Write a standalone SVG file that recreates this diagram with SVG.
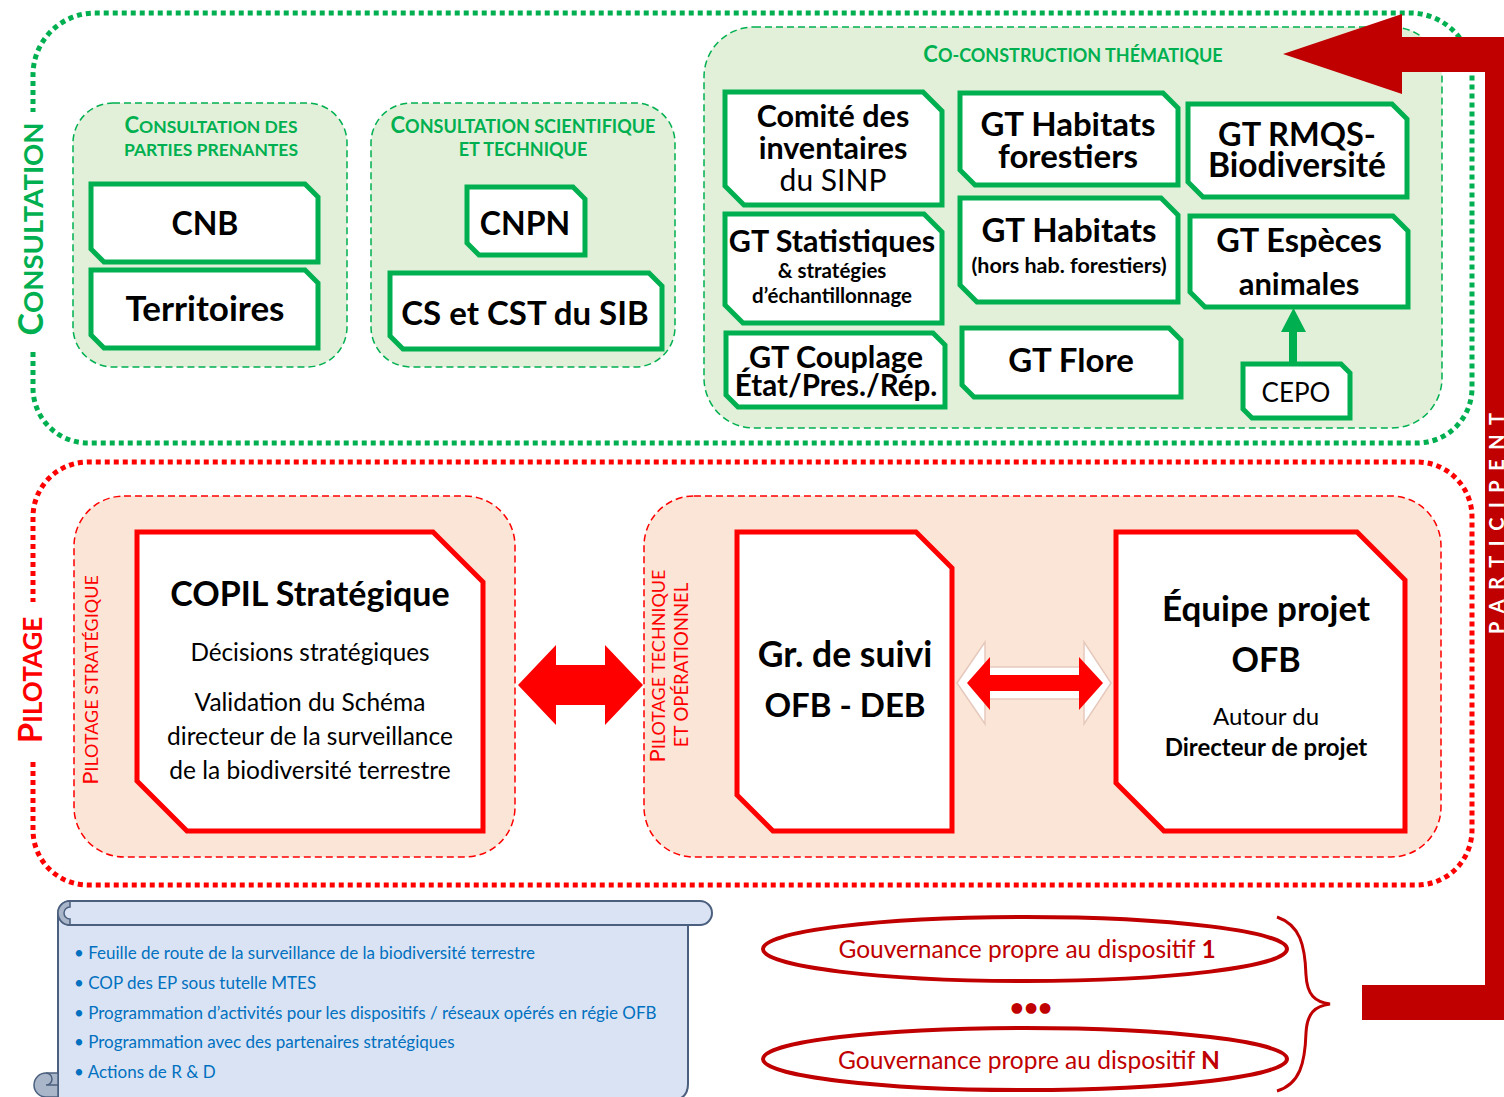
<svg xmlns="http://www.w3.org/2000/svg" width="1504" height="1097" viewBox="0 0 1504 1097">
<style>
text{font-family:Lato,"Liberation Sans",sans-serif;}
.b{font-weight:bold;}
.gbox{fill:#fff;stroke:#00b050;stroke-width:5;stroke-linejoin:miter;}
.rbox{fill:#fff;stroke:#ff0000;stroke-width:5;stroke-linejoin:miter;}
.gcont{fill:#e2f0d9;stroke:#00b050;stroke-width:1.5;stroke-dasharray:7 4;}
.rcont{fill:#fbe5d6;stroke:#ff0000;stroke-width:1.5;stroke-dasharray:7 4;}
.gtitle{fill:#00b050;font-weight:bold;text-anchor:middle;}
.rtitle{fill:#ff0000;text-anchor:middle;}
.t{fill:#000;text-anchor:middle;}
.bul{fill:#0070c0;font-size:17px;}
.gov{fill:#c00000;font-size:24.5px;text-anchor:middle;}
</style>

<g id="consultation-frame">
<path d="M33,352 L33,388 A55,55 0 0 0 88,443 L1417,443 A55,55 0 0 0 1472,388 L1472,75 A62,62 0 0 0 1410,13 L95,13 A62,62 0 0 0 33,75 L33,112" fill="none" stroke="#00b050" stroke-width="5" stroke-dasharray="5 4"/>
<text transform="translate(43,229) rotate(-90)" class="gtitle"><tspan font-size="34">C</tspan><tspan font-size="27.5">ONSULTATION</tspan></text>
</g>

<g id="pilotage-frame">
<path d="M33,762 L33,830 A55,55 0 0 0 88,885 L1417,885 A55,55 0 0 0 1472,830 L1472,517 A55,55 0 0 0 1417,462 L88,462 A55,55 0 0 0 33,517 L33,602" fill="none" stroke="#ff0000" stroke-width="5" stroke-dasharray="5 4"/>
<text transform="translate(42,680) rotate(-90)" class="rtitle b"><tspan font-size="33">P</tspan><tspan font-size="26">ILOTAGE</tspan></text>
</g>

<g id="parties-prenantes">
<rect class="gcont" x="73" y="103" width="274" height="264" rx="40"/>
<text class="gtitle" x="211" y="133"><tspan font-size="22">C</tspan><tspan font-size="17.5">ONSULTATION DES</tspan></text>
<text class="gtitle" x="211" y="156" font-size="17.5">PARTIES PRENANTES</text>
</g>
<g id="cnb">
<polygon class="gbox" points="91,184 305,184 318,197 318,262 104,262 91,249"/>
<text class="t b" x="205" y="235" font-size="32">CNB</text>
</g>
<g id="territoires">
<polygon class="gbox" points="91,270 305,270 318,283 318,348 104,348 91,335"/>
<text class="t b" x="205" y="321" font-size="35">Territoires</text>
</g>

<g id="scientifique">
<rect class="gcont" x="371" y="103" width="304" height="264" rx="40"/>
<text class="gtitle" x="523" y="133"><tspan font-size="22">C</tspan><tspan font-size="18">ONSULTATION SCIENTIFIQUE</tspan></text>
<text class="gtitle" x="523" y="156" font-size="18">ET TECHNIQUE</text>
</g>
<g id="cnpn">
<polygon class="gbox" points="467,187 573,187 585,199 585,255 479,255 467,243"/>
<text class="t b" x="525" y="235" font-size="32">CNPN</text>
</g>
<g id="cs-cst">
<polygon class="gbox" points="390,273 649,273 662,286 662,349 403,349 390,336"/>
<text class="t b" x="525" y="325" font-size="33">CS et CST du SIB</text>
</g>

<g id="co-construction">
<rect class="gcont" x="704" y="27" width="738" height="401" rx="50"/>
<text class="gtitle" x="1073" y="62"><tspan font-size="22">C</tspan><tspan font-size="18">O-CONSTRUCTION THÉMATIQUE</tspan></text>
</g>
<g id="comite">
<polygon class="gbox" points="725,92 923,92 942,111 942,205 744,205 725,186"/>
<text class="t b" x="833" y="127" font-size="30.5">Comité des</text>
<text class="t b" x="833" y="159" font-size="30.5">inventaires</text>
<text class="t" x="833" y="191" font-size="30">du SINP</text>
</g>
<g id="gt-stat">
<polygon class="gbox" points="725,214 924,214 942,232 942,323 743,323 725,305"/>
<text class="t b" x="832" y="252" font-size="30.5">GT Statistiques</text>
<text class="t b" x="832" y="278" font-size="20.5">&amp; stratégies</text>
<text class="t b" x="832" y="303" font-size="20.5">d’échantillonnage</text>
</g>
<g id="gt-couplage">
<polygon class="gbox" points="726,333 933,333 945,345 945,407 738,407 726,395"/>
<text class="t b" x="836" y="368" font-size="30.5">GT Couplage</text>
<text class="t b" x="836" y="396" font-size="29.5">État/Pres./Rép.</text>
</g>
<g id="gt-hab-for">
<polygon class="gbox" points="960,93 1163,93 1178,108 1178,185 975,185 960,170"/>
<text class="t b" x="1068" y="136" font-size="33">GT Habitats</text>
<text class="t b" x="1068" y="168" font-size="33">forestiers</text>
</g>
<g id="gt-hab">
<polygon class="gbox" points="960,198 1161,198 1178,215 1178,302 977,302 960,285"/>
<text class="t b" x="1069" y="242" font-size="33">GT Habitats</text>
<text class="t b" x="1069" y="273" font-size="21.5">(hors hab. forestiers)</text>
</g>
<g id="gt-flore">
<polygon class="gbox" points="962,328 1169,328 1181,340 1181,397 974,397 962,385"/>
<text class="t b" x="1071" y="372" font-size="33">GT Flore</text>
</g>
<g id="gt-rmqs">
<polygon class="gbox" points="1188,104 1392,104 1407,119 1407,197 1203,197 1188,182"/>
<text class="t b" x="1297" y="146" font-size="32.5">GT RMQS-</text>
<text class="t b" x="1297" y="177" font-size="33.5">Biodiversité</text>
</g>
<g id="gt-especes">
<polygon class="gbox" points="1190,216 1393,216 1408,231 1408,307 1205,307 1190,292"/>
<text class="t b" x="1299" y="252" font-size="32.5">GT Espèces</text>
<text class="t b" x="1299" y="295" font-size="31">animales</text>
</g>
<g id="cepo">
<polygon class="gbox" points="1243,364 1341,364 1350,373 1350,418 1252,418 1243,409"/>
<text class="t" x="1296" y="402" font-size="26">CEPO</text>
</g>

<g id="pilotage-strategique">
<rect class="rcont" x="74" y="496" width="441" height="361" rx="50"/>
<text transform="translate(98,680) rotate(-90)" class="rtitle"><tspan font-size="22">P</tspan><tspan font-size="18">ILOTAGE STRATÉGIQUE</tspan></text>
</g>
<g id="copil">
<polygon class="rbox" points="137,532 433,532 483,582 483,831 187,831 137,781"/>
<text class="t b" x="310" y="606" font-size="34">COPIL Stratégique</text>
<text class="t" x="310" y="661" font-size="24.3">Décisions stratégiques</text>
<text class="t" x="310" y="711" font-size="24.5">Validation du Schéma</text>
<text class="t" x="310" y="745" font-size="24.5">directeur de la surveillance</text>
<text class="t" x="310" y="779" font-size="24.5">de la biodiversité terrestre</text>
</g>

<g id="pilotage-technique">
<rect class="rcont" x="644" y="496" width="797" height="361" rx="50"/>
<text transform="translate(665,666) rotate(-90)" class="rtitle"><tspan font-size="22">P</tspan><tspan font-size="18">ILOTAGE TECHNIQUE</tspan></text>
<text transform="translate(688,665) rotate(-90)" class="rtitle" font-size="18.5">ET OPÉRATIONNEL</text>
</g>
<g id="gr-suivi">
<polygon class="rbox" points="737,532 916,532 952,568 952,831 773,831 737,795"/>
<text class="t b" x="845" y="667" font-size="35.5">Gr. de suivi</text>
<text class="t b" x="845" y="717" font-size="33">OFB - DEB</text>
</g>
<g id="equipe-projet">
<polygon class="rbox" points="1116,532 1357,532 1405,580 1405,831 1164,831 1116,783"/>
<text class="t b" x="1266" y="621" font-size="35">Équipe projet</text>
<text class="t b" x="1266" y="672" font-size="34">OFB</text>
<text class="t" x="1266" y="725" font-size="24">Autour du</text>
<text class="t b" x="1266" y="756" font-size="24">Directeur de projet</text>
</g>

<g id="feuille-de-route">
<path d="M58,913 L58,1100 L676,1100 Q688,1097 688,1084 L688,913 Z" fill="#dae3f3" stroke="#4b5f7e" stroke-width="2"/>
<rect x="58" y="901" width="654" height="24" rx="12" fill="#dae3f3" stroke="#4b5f7e" stroke-width="2"/>
<path d="M70,901 A12,12 0 0 0 70,925 L70,919 A6,6 0 0 1 70,907 Z" fill="#a9b6c9" stroke="#4b5f7e" stroke-width="1.5"/>
<path d="M58,1073 L46,1073 A12,12 0 0 0 46,1097 L58,1097 Z" fill="#a9b6c9" stroke="#4b5f7e" stroke-width="1.5"/>
<path d="M46,1073 A6,6 0 0 1 46,1085 L58,1085" fill="none" stroke="#4b5f7e" stroke-width="1.5"/>
<text class="bul" x="74" y="959">• Feuille de route de la surveillance de la biodiversité terrestre</text>
<text class="bul" x="74" y="989">• COP des EP sous tutelle MTES</text>
<text class="bul" x="74" y="1019">• Programmation d’activités pour les dispositifs / réseaux opérés en régie OFB</text>
<text class="bul" x="74" y="1048">• Programmation avec des partenaires stratégiques</text>
<text class="bul" x="74" y="1078">• Actions de R &amp; D</text>
</g>

<g id="gouvernance-1">
<ellipse cx="1025" cy="949" rx="262" ry="32" fill="none" stroke="#c00000" stroke-width="4"/>
<text class="gov" x="1027" y="958">Gouvernance propre au dispositif <tspan font-weight="bold">1</tspan></text>
</g>
<text class="gov b" x="1031" y="1016" font-size="28">•••</text>
<g id="gouvernance-n">
<ellipse cx="1025" cy="1059" rx="262" ry="31" fill="none" stroke="#c00000" stroke-width="4"/>
<text class="gov" x="1029" y="1069">Gouvernance propre au dispositif <tspan font-weight="bold">N</tspan></text>
</g>

<g id="connectors">
<path d="M518,685 L556,645 L556,665 L605,665 L605,645 L643,685 L605,725 L605,705 L556,705 L556,725 Z" fill="#ff0000"/>
<path d="M957,683 L985,642 L985,667 L1084,667 L1084,642 L1111,683 L1084,724 L1084,699 L985,699 L985,724 Z" fill="#fff" stroke="#e6c9bd" stroke-width="1.5"/>
<path d="M967,683 L990,657 L990,675 L1079,675 L1079,657 L1103,683 L1079,710 L1079,691 L990,691 L990,710 Z" fill="#ff0000"/>
<path d="M1289,363 L1289,332 L1281,332 L1293.5,308 L1306,332 L1297,332 L1297,363 Z" fill="#00b050"/>
<path d="M1277,917 C1300,925 1305,945 1306,975 C1307,995 1315,1002 1330,1004 C1315,1006 1307,1013 1306,1033 C1305,1063 1300,1084 1277,1091" fill="none" stroke="#c00000" stroke-width="3"/>
<path d="M1283,54 L1402,14 L1402,37 L1520,37 L1520,1020 L1362,1020 L1362,985 L1485,985 L1485,72 L1402,72 L1402,94 Z" fill="#c00000"/>
<text transform="translate(1504,634) rotate(-90)" fill="#fff" font-weight="bold" font-size="20" letter-spacing="9.5">PARTICIPENT</text>
</g>
</svg>
